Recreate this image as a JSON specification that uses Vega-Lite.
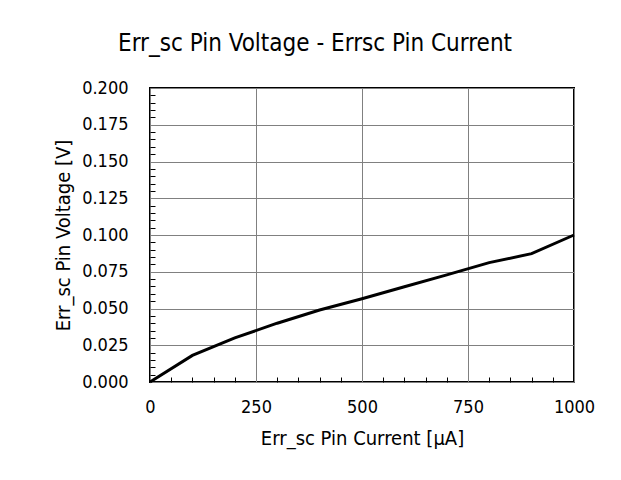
{
  "$schema": "https://vega.github.io/schema/vega-lite/v6.json",
  "width": 424,
  "height": 294,
  "autosize": {"type": "none"},
  "padding": {"left": 150, "top": 88, "right": 47, "bottom": 98},
  "background": "#ffffff",
  "title": {
    "text": "Err_sc Pin Voltage - Errsc Pin Current",
    "font": "DejaVu Sans Condensed",
    "fontSize": 24,
    "fontWeight": "normal",
    "color": "#000000",
    "anchor": "middle",
    "baseline": "alphabetic",
    "offset": 4,
    "dx": -47
  },
  "config": {
    "font": "DejaVu Sans Condensed",
    "view": {"stroke": "#000000", "strokeWidth": 2},
    "axis": {
      "labelFont": "DejaVu Sans Condensed",
      "titleFont": "DejaVu Sans Condensed",
      "labelColor": "#000000",
      "titleColor": "#000000",
      "titleFontWeight": "normal",
      "gridColor": "#808080",
      "gridWidth": 1,
      "gridOpacity": 1,
      "labelFlush": false,
      "domain": false
    }
  },
  "data": {
    "values": [
      {"current": 0, "voltage": 0.0},
      {"current": 100, "voltage": 0.0181},
      {"current": 200, "voltage": 0.0300},
      {"current": 300, "voltage": 0.0400},
      {"current": 400, "voltage": 0.0490},
      {"current": 500, "voltage": 0.0566},
      {"current": 600, "voltage": 0.0648},
      {"current": 700, "voltage": 0.0729},
      {"current": 800, "voltage": 0.0812},
      {"current": 900, "voltage": 0.0873},
      {"current": 1000, "voltage": 0.1000}
    ]
  },
  "resolve": {"axis": {"x": "independent", "y": "independent"}},
  "layer": [
    {
      "mark": {"type": "line", "strokeOpacity": 0},
      "encoding": {
        "x": {
          "field": "current", "type": "quantitative",
          "scale": {"domain": [0, 1000], "nice": false},
          "axis": {
            "orient": "bottom",
            "title": "Err_sc Pin Current [μA]",
            "values": [0, 250, 500, 750, 1000],
            "format": "d",
            "ticks": false,
            "labelPadding": 16,
            "labelFontSize": 18,
            "titleFontSize": 20,
            "titlePadding": 12,
            "grid": true
          }
        },
        "y": {
          "field": "voltage", "type": "quantitative",
          "scale": {"domain": [0, 0.2], "nice": false},
          "axis": {
            "orient": "left",
            "title": "Err_sc Pin Voltage [V]",
            "values": [0, 0.025, 0.05, 0.075, 0.1, 0.125, 0.15, 0.175, 0.2],
            "format": ".3f",
            "ticks": false,
            "labelPadding": 22,
            "labelFontSize": 18,
            "titleFontSize": 20,
            "titlePadding": 8,
            "grid": true
          }
        }
      }
    },
    {
      "mark": {"type": "line", "color": "#000000", "strokeWidth": 3},
      "encoding": {
        "x": {
          "field": "current", "type": "quantitative",
          "scale": {"domain": [0, 1000], "nice": false},
          "axis": {
            "orient": "bottom",
            "title": null,
            "labels": false,
            "grid": false,
            "domain": false,
            "ticks": true,
            "tickSize": -5,
            "tickColor": "#000000",
            "tickWidth": 1,
            "values": [50, 100, 150, 200, 300, 350, 400, 450, 550, 600, 650, 700, 800, 850, 900, 950]
          }
        },
        "y": {
          "field": "voltage", "type": "quantitative",
          "scale": {"domain": [0, 0.2], "nice": false},
          "axis": {
            "orient": "left",
            "title": null,
            "labels": false,
            "grid": false,
            "domain": false,
            "ticks": true,
            "tickSize": -5,
            "tickColor": "#000000",
            "tickWidth": 1,
            "values": [0.005, 0.01, 0.015, 0.02, 0.03, 0.035, 0.04, 0.045, 0.055, 0.06, 0.065, 0.07, 0.08, 0.085, 0.09, 0.095, 0.105, 0.11, 0.115, 0.12, 0.13, 0.135, 0.14, 0.145, 0.155, 0.16, 0.165, 0.17, 0.18, 0.185, 0.19, 0.195]
          }
        }
      }
    }
  ]
}
